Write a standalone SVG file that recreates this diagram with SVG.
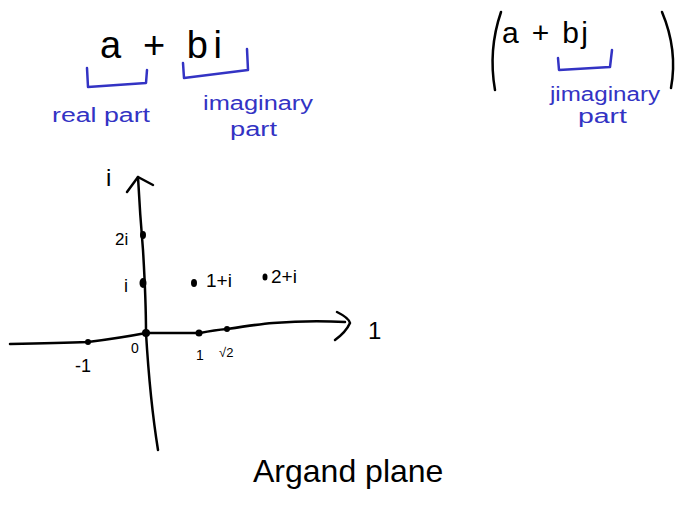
<svg xmlns="http://www.w3.org/2000/svg" width="680" height="505" viewBox="0 0 680 505">
<style>
.ink{fill:none;stroke:#000;stroke-width:2.5;stroke-linecap:round;stroke-linejoin:round}
.blue{fill:none;stroke:#3333c4;stroke-width:2.5;stroke-linecap:round;stroke-linejoin:round}
.tk{font-family:"Liberation Sans",Arial,sans-serif;fill:#000}
.tb{font-family:"Liberation Sans",Arial,sans-serif;fill:#3333c4}
.dot{fill:#000}
</style>
<rect width="680" height="505" fill="#fff"/>
<g id="expr-left">
<text class="tk" x="100" y="58" font-size="38" textLength="122" lengthAdjust="spacing">a + bi</text>
<path class="blue" d="M87 68 L88 87 L146 83 L147 70"/>
<path class="blue" d="M183 63 L184 78 L248 70 L247 49"/>
<text class="tb" x="52" y="122" font-size="20" textLength="98" lengthAdjust="spacingAndGlyphs">real part</text>
<text class="tb" x="203" y="110" font-size="20" textLength="110" lengthAdjust="spacingAndGlyphs">imaginary</text>
<text class="tb" x="230" y="136" font-size="20" textLength="47" lengthAdjust="spacingAndGlyphs">part</text>
</g>
<g id="expr-right">
<path class="ink" d="M501 12 Q488 50 495 90"/>
<path class="ink" d="M662 12 Q678 50 671 88"/>
<text class="tk" x="502" y="43" font-size="30" textLength="86" lengthAdjust="spacing">a + bj</text>
<path class="blue" d="M558 58 L559 70 L610 67 L612 50"/>
<text class="tb" x="550" y="101" font-size="20" textLength="110" lengthAdjust="spacingAndGlyphs">jimaginary</text>
<text class="tb" x="578" y="123" font-size="20" textLength="49" lengthAdjust="spacingAndGlyphs">part</text>
</g>
<g id="connectors">
<path class="ink" d="M138 177 Q140 215 143 250 Q146 300 146 333 Q150 400 158 450"/>
<path class="ink" d="M127 192 L138 177 L153 185"/>
<path class="ink" d="M10 344 Q60 343 88 342 Q120 338 146 333 L200 333 Q215 330 227 329 Q260 324 273 323 Q310 320 345 322"/>
<path class="ink" d="M337 312 Q349 318 350 323 Q346 332 335 340"/>
</g>
<g id="points">
<circle class="dot" cx="88" cy="342" r="3"/>
<circle class="dot" cx="146" cy="333" r="4"/>
<circle class="dot" cx="199" cy="333" r="3.5"/>
<circle class="dot" cx="227" cy="329" r="3"/>
<ellipse class="dot" cx="143" cy="235" rx="3" ry="4"/>
<ellipse class="dot" cx="143" cy="283" rx="3.5" ry="5"/>
<ellipse class="dot" cx="194" cy="283" rx="3" ry="4"/>
<ellipse class="dot" cx="265" cy="277" rx="2.5" ry="3.5"/>
</g>
<g id="labels">
<text class="tk" x="106" y="186" font-size="24">i</text>
<text class="tk" x="368" y="339" font-size="24">1</text>
<text class="tk" x="115" y="245" font-size="17">2i</text>
<text class="tk" x="124" y="292" font-size="18">i</text>
<text class="tk" x="206" y="287" font-size="19">1+i</text>
<text class="tk" x="271" y="283" font-size="19">2+i</text>
<text class="tk" x="131" y="353" font-size="14">0</text>
<text class="tk" x="75" y="372" font-size="18">-1</text>
<text class="tk" x="196" y="360" font-size="14">1</text>
<text class="tk" x="219" y="357" font-size="13">√2</text>
</g>
<g id="title">
<text class="tk" x="253" y="482" font-size="32">Argand plane</text>
</g>
</svg>
